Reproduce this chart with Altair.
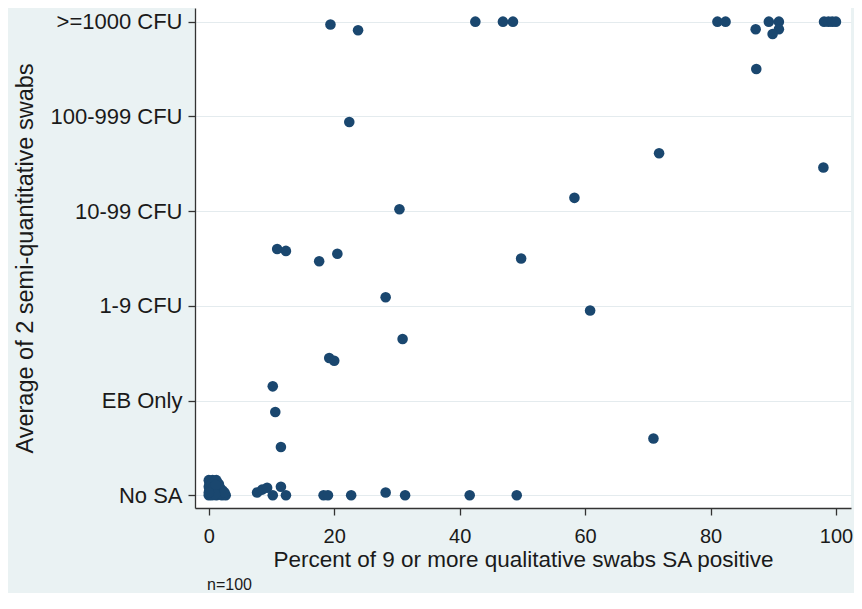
import json
import altair as alt
import pandas as pd

# ---- data ----
# y coding: 0=No SA, 1=EB Only, 2=1-9 CFU, 3=10-99 CFU, 4=100-999 CFU, 5=>=1000 CFU (jittered)
y_labels = ["No SA", "EB Only", "1-9 CFU", "10-99 CFU", "100-999 CFU", ">=1000 CFU"]
x_ticks = [0, 20, 40, 60, 80, 100]

# dense cluster near the origin
cluster_x = [0.0, 0.3, 0.6, 0.9, 1.2, 1.5, 1.8, 2.1, 2.4, 2.7,
             0.1, 0.4, 0.7, 1.0, 1.3, 1.6, 1.9, 2.2,
             0.0, 0.3, 0.6, 0.9, 1.2, 1.5, 1.8,
             0.1, 0.4, 0.7, 1.0, 1.3, 1.6,
             0.0, 0.3, 0.6, 0.9, 1.2,
             0.2, 0.5, 0.8, 1.1, 1.4, 1.7, 2.0, 2.5,
             0.2, 0.5, 0.8, 1.1, 0.5, 1.0, 0.0]
cluster_y = [0.00, 0.02, 0.01, 0.03, 0.00, 0.02, 0.01, 0.00, 0.01, 0.00,
             0.05, 0.07, 0.04, 0.06, 0.05, 0.07, 0.04, 0.05,
             0.09, 0.11, 0.08, 0.10, 0.09, 0.11, 0.08,
             0.13, 0.14, 0.12, 0.13, 0.14, 0.12,
             0.16, 0.15, 0.16, 0.15, 0.16,
             0.03, 0.05, 0.02, 0.08, 0.03, 0.05, 0.02, 0.03,
             0.10, 0.12, 0.09, 0.11, 0.00, 0.01, 0.03]

bottom_x = [7.7, 8.5, 9.3, 10.2, 11.5, 12.3, 18.3, 19.0, 22.7, 28.2, 31.3, 41.6, 49.1]
bottom_y = [0.03, 0.06, 0.08, 0.00, 0.09, 0.00, 0.00, 0.00, 0.00, 0.03, 0.00, 0.00, 0.00]

mid_x = [10.9, 12.3, 17.6, 20.5, 49.8, 28.2, 30.9, 19.2, 20.0, 10.2, 10.6, 11.5, 60.8, 70.9]
mid_y = [2.60, 2.58, 2.47, 2.55, 2.50, 2.09, 1.65, 1.45, 1.42, 1.15, 0.88, 0.51, 1.95, 0.60]

upper_x = [30.4, 58.3, 22.4, 71.8, 98.0]
upper_y = [3.02, 3.14, 3.94, 3.61, 3.46]

top_x = [19.4, 23.8, 42.5, 46.9, 48.5, 81.1, 82.4, 87.2, 89.3, 90.9, 90.9, 89.9, 87.3,
         98.1, 98.8, 99.4, 100.0]
top_y = [4.97, 4.91, 5.00, 5.00, 5.00, 5.00, 5.00, 4.92, 5.00, 5.00, 4.92, 4.87, 4.50,
         5.00, 5.00, 5.00, 5.00]

note_text = ["n=100"]

df = pd.DataFrame({
    "pct": cluster_x + bottom_x + mid_x + upper_x + top_x,
    "avg": cluster_y + bottom_y + mid_y + upper_y + top_y,
})

W, H = 656, 500
FONT = "Liberation Sans"
INK = "#1a1a1a"

points = alt.Chart(df).mark_circle(size=112, color="#1a476f", opacity=1).encode(
    x=alt.X("pct:Q",
            scale=alt.Scale(domain=[-2.2, 102.4], nice=False, zero=False),
            axis=alt.Axis(values=x_ticks, grid=False, tickSize=7, labelPadding=11,
                          labelFontSize=20, title="Percent of 9 or more qualitative swabs SA positive",
                          titleFontSize=22.5, titleBaseline="top", titleY=40)),
    y=alt.Y("avg:Q",
            scale=alt.Scale(domain=[-0.134, 5.144], nice=False, zero=False),
            axis=alt.Axis(values=[0, 1, 2, 3, 4, 5],
                          labelExpr=json.dumps(y_labels) + "[datum.value]",
                          grid=True, gridColor="#e4ebee", gridWidth=1.2,
                          tickSize=7, labelPadding=6, labelFontSize=22,
                          title="Average of 2 semi-quantitative swabs", titleFontSize=23.5,
                          titleAngle=270, titleBaseline="middle", titleAlign="center",
                          titleX=-170, titleY=H / 2)),
)

note = alt.Chart(pd.DataFrame({"note": note_text})).mark_text(
    align="left", baseline="middle", fontSize=16, font=FONT, color=INK
).encode(x=alt.value(12), y=alt.value(H + 77), text="note:N")

chart = alt.layer(points, note).properties(
    width=W, height=H,
    padding={"left": 187, "top": 0, "right": 3, "bottom": 85},
    autosize=alt.AutoSizeParams(type="none"),
    background="#eaf2f3",
).configure_view(
    fill="white", strokeWidth=0
).configure_axis(
    domainColor="#333333", tickColor="#333333", domainWidth=1.3, tickWidth=1.3,
    labelColor=INK, titleColor=INK, labelFont=FONT, titleFont=FONT,
    titleFontWeight="normal",
)

chart.save("out.html", embed_options={"renderer": "svg", "actions": False})
